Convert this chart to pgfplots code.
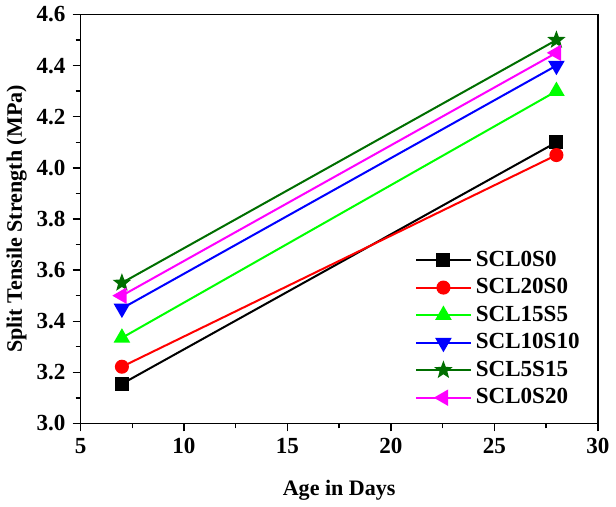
\documentclass[border=0pt]{standalone}
\usepackage{pgfplots}
\pgfplotsset{compat=1.18}
\usepackage{fontspec}
\setmainfont{Liberation Serif}
\definecolor{lgreen}{RGB}{0,255,0}
\definecolor{dgreen}{RGB}{0,110,0}
\definecolor{mag}{RGB}{255,0,255}

% filled five-pointed star
\pgfdeclareplotmark{fstar}{%
  \pgfpathmoveto{\pgfqpointpolar{90}{\pgfplotmarksize}}%
  \pgfpathlineto{\pgfqpointpolar{126}{0.42\pgfplotmarksize}}%
  \pgfpathlineto{\pgfqpointpolar{162}{\pgfplotmarksize}}%
  \pgfpathlineto{\pgfqpointpolar{198}{0.42\pgfplotmarksize}}%
  \pgfpathlineto{\pgfqpointpolar{234}{\pgfplotmarksize}}%
  \pgfpathlineto{\pgfqpointpolar{270}{0.42\pgfplotmarksize}}%
  \pgfpathlineto{\pgfqpointpolar{306}{\pgfplotmarksize}}%
  \pgfpathlineto{\pgfqpointpolar{342}{0.42\pgfplotmarksize}}%
  \pgfpathlineto{\pgfqpointpolar{18}{\pgfplotmarksize}}%
  \pgfpathlineto{\pgfqpointpolar{54}{0.42\pgfplotmarksize}}%
  \pgfpathclose
  \pgfusepathqfillstroke}

\begin{document}
\begin{tikzpicture}
\begin{axis}[
    scale only axis,
    width=258pt, height=204pt,
    xmin=5, xmax=30, ymin=3.0, ymax=4.6,
    xtick={5,10,...,30},
    ytick={3.0,3.2,...,4.6},
    minor x tick num=1, minor y tick num=1,
    tick pos=left,
    tick align=outside,
    major tick length=4pt, minor tick length=2.5pt,
    axis line style={line width=0.8pt},
    every tick/.style={black, line width=0.7pt},
    yticklabel style={/pgf/number format/.cd, fixed, fixed zerofill, precision=1},
    /pgf/number format/assume math mode=true,
    ticklabel style={font=\bfseries\fontsize{11.5}{13}\selectfont},
    xlabel={\bfseries Age in Days},
    ylabel={\bfseries Split Tensile Strength (MPa)},
    label style={font=\bfseries\fontsize{11}{13}\selectfont},
    xlabel style={yshift=-6pt},
    ylabel style={yshift=-2pt},
    legend style={draw=none, fill=none, at={(rel axis cs:0.985,0.02)}, anchor=south east,
        font=\bfseries\fontsize{11.5}{13}\selectfont, row sep=0.6pt},
    legend cell align=left,
    legend image code/.code={
        \draw[mark repeat=2,mark phase=2] plot coordinates {(0cm,0cm) (0.48cm,0cm) (0.96cm,0cm)};
    },
    every axis plot/.append style={line width=1pt, mark size=3pt},
]
\addplot[black, mark=square*] coordinates {(7,3.155) (28,4.10)};
\addlegendentry{SCL0S0}
\addplot[red, mark=*] coordinates {(7,3.222) (28,4.05)};
\addlegendentry{SCL20S0}
\addplot[lgreen, mark=triangle*, mark size=3.8pt] coordinates {(7,3.335) (28,4.30)};
\addlegendentry{SCL15S5}
\addplot[blue, mark=triangle*, mark options={rotate=180}, mark size=3.8pt] coordinates {(7,3.45) (28,4.40)};
\addlegendentry{SCL10S10}
\addplot[dgreen, mark=fstar, mark size=3.4pt] coordinates {(7,3.55) (28,4.50)};
\addlegendentry{SCL5S15}
\addplot[mag, mark=triangle*, mark options={rotate=90}, mark size=3.8pt] coordinates {(7,3.50) (28,4.45)};
\addlegendentry{SCL0S20}
\end{axis}
\end{tikzpicture}
\end{document}
